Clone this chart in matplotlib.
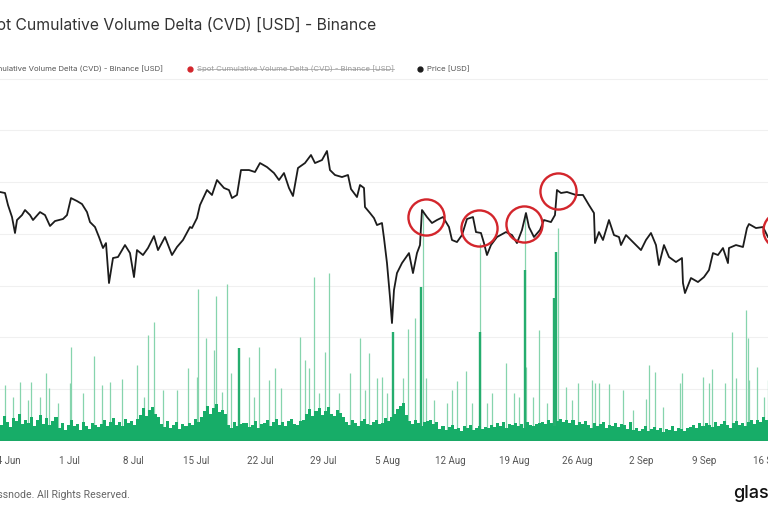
import datetime
import numpy as np
import matplotlib
matplotlib.use('Agg')
import matplotlib.pyplot as plt
import matplotlib.dates as mdates
from matplotlib.lines import Line2D

# time axis: days counted from 24 Jun 2024
start = mdates.date2num(datetime.datetime(2024, 6, 24))
tick_days = [0, 7, 14, 21, 28, 35, 42, 49, 56, 63, 70, 77, 84]
tick_labels = ['24 Jun', '1 Jul', '8 Jul', '15 Jul', '22 Jul', '29 Jul', '5 Aug',
               '12 Aug', '19 Aug', '26 Aug', '2 Sep', '9 Sep', '16 Sep']

# BTC price [USD]
price_days = [-0.674, -0.122, 0.208, 0.649, 0.980, 1.201, 1.752, 2.083, 2.634, 2.965,
              3.737, 4.288, 4.839, 5.390, 6.272, 6.713, 7.154, 7.816, 8.367, 8.918,
              9.248, 9.800, 10.241, 10.682, 11.012, 11.343, 11.784, 12.335, 13.107, 13.658,
              14.099, 14.430, 15.091, 15.642, 16.304, 16.745, 17.517, 18.288, 18.839, 19.501,
              20.273, 20.493, 21.045, 21.375, 22.147, 22.698, 23.249, 24.021, 24.572, 24.903,
              25.454, 25.895, 26.777, 27.439, 27.990, 28.762, 29.533, 30.085, 30.636, 31.187,
              31.628, 32.179, 32.951, 33.613, 34.054, 34.825, 35.376, 35.707, 36.258, 37.030,
              37.692, 38.022, 38.684, 39.015, 39.456, 39.566, 40.117, 40.558, 40.889, 41.440,
              41.661, 41.992, 42.322, 42.543, 42.763, 43.094, 43.645, 44.417, 44.858, 45.299,
              45.630, 45.850, 46.401, 46.953, 47.504, 48.165, 48.827, 49.158, 49.709, 50.260,
              50.811, 51.473, 51.804, 52.355, 52.686, 53.016, 53.457, 54.119, 55.111, 55.772,
              56.324, 56.875, 57.316, 57.647, 58.198, 58.860, 59.301, 60.072, 60.513, 60.734,
              61.175, 61.836, 62.829, 63.600, 64.262, 64.813, 64.924, 65.365, 65.806, 66.467,
              67.018, 67.570, 67.790, 68.341, 69.223, 69.995, 70.546, 71.097, 71.649, 71.979,
              72.531, 73.082, 73.854, 74.515, 74.625, 74.846, 75.507, 76.279, 76.941, 77.492,
              77.933, 78.484, 79.035, 79.586, 79.697, 80.469, 81.240, 81.681, 81.902, 82.674,
              83.445, 83.996]
price_usd = [64580, 64460, 63050, 61650, 59780, 61300, 61880, 62470, 61880, 61300,
             62230, 61880, 60600, 61180, 61420, 61880, 63870, 63520, 63170, 62230,
             61060, 60480, 59310, 58020, 58600, 53920, 56850, 56970, 58370, 57430,
             54620, 57780, 57200, 58020, 59420, 57780, 59310, 57200, 58140, 58960,
             60480, 60360, 61530, 63050, 64810, 64230, 65980, 65050, 64810, 63870,
             64230, 67150, 67150, 66920, 67970, 67500, 66800, 65980, 66800, 65050,
             64110, 67390, 67970, 68910, 67970, 68320, 69380, 67150, 66570, 66330,
             66570, 64930, 63990, 65400, 65050, 62820, 62120, 61530, 60710, 60950,
             59190, 56260, 52280, 49240, 53100, 55090, 56260, 57430, 55090, 57430,
             58370, 62470, 61650, 60950, 61300, 61650, 60480, 58960, 58720, 59540,
             61420, 61650, 59890, 59780, 58600, 57200, 58370, 59310, 59890, 59540,
             58600, 60130, 62120, 60480, 59310, 60130, 61300, 61060, 61880, 64810,
             64460, 64580, 64230, 64230, 63050, 62120, 58600, 59890, 58960, 61300,
             59540, 59310, 58370, 59540, 58600, 57780, 58960, 59780, 58370, 56030,
             58370, 56970, 56380, 56850, 53920, 52750, 54510, 54040, 54620, 55440,
             57430, 57200, 58020, 56260, 58020, 58370, 58140, 60360, 60830, 60360,
             60480, 59310]

# spot CVD base, 8h buckets from 23 Jun (arbitrary units, estimated)
cvd_8h = [4.2, 3.1, 4.8, 3.6, 2.7, 4.5, 3.9, 5.2, 3.3, 4.1,
          3.5, 4.6, 2.9, 4.0, 5.1, 3.2, 4.4, 3.0, 3.8, 4.7,
          2.6, 3.4, 2.2, 3.1, 4.0, 2.8, 3.3, 2.1, 3.6, 2.9, 2.4, 3.5, 3.0, 2.7,
          3.2, 4.1, 2.9, 3.7, 4.4, 3.0, 3.6, 2.8, 4.2, 3.4, 3.9, 3.1, 4.3,
          5.1, 6.3, 4.8, 5.9, 6.6, 5.2, 4.6,
          3.3, 2.7, 3.8, 2.5, 3.1, 3.6, 2.4, 3.2, 2.9, 3.5, 3.0,
          4.2, 3.6, 4.7,
          5.8, 6.7, 5.2, 6.4, 7.1, 5.5, 6.0, 5.3,
          3.1, 2.6, 3.7, 2.9, 3.3, 3.4, 3.5, 2.7, 3.0, 3.8, 2.5, 3.2,
          3.4, 4.0, 2.9, 3.7, 4.3, 3.1, 3.6, 2.8, 3.9, 4.2, 3.3, 3.0, 3.8, 4.1,
          5.2, 6.1, 4.9, 5.7, 6.4, 5.0, 5.8, 6.6, 5.3, 4.8, 5.9, 5.4, 4.7,
          3.6, 3.1, 4.0, 3.4, 2.9, 3.8, 4.2, 3.3, 3.0, 3.7, 4.1, 3.2, 3.5, 4.4, 3.9,
          4.6, 5.3, 6.2, 6.8, 7.4, 5.1,
          3.8, 3.2, 4.1, 3.5, 2.9, 3.7, 3.9, 4.0, 3.3, 3.6,
          2.4, 2.9, 2.2, 2.7, 3.1, 2.3, 2.6, 2.0, 2.8, 2.5, 3.0, 2.1, 2.6, 2.9, 2.4, 2.7, 2.5,
          3.1, 2.7, 3.4, 2.9, 3.6, 2.5, 3.2, 3.0, 3.5, 2.8, 3.3, 2.6, 3.7, 3.0, 2.9, 3.2, 3.4,
          3.6, 3.2, 4.0, 3.4, 2.9, 3.8, 4.3, 3.6, 4.0, 3.5, 4.1, 3.0, 3.7, 3.3, 3.9,
          3.0, 2.6, 3.4, 2.8, 3.2, 3.7, 2.5, 3.1, 2.9, 3.5, 2.7, 3.3, 3.0, 2.4, 3.6,
          2.2, 2.6, 1.9, 2.4, 2.8, 2.0, 2.3, 2.7, 2.1, 2.5, 1.8, 2.4, 2.2, 2.9, 2.0,
          2.6, 2.3, 1.9, 2.5, 2.7,
          3.0, 2.6, 3.4, 2.8, 3.5, 3.1, 2.7, 3.6, 2.9, 3.3, 3.8, 3.0, 2.6, 3.4, 3.9,
          3.1, 3.5, 2.8, 3.7, 4.0, 3.2,
          4.1, 3.7, 4.6, 4.0, 5.2]
cvd_days = -1 + (np.arange(len(cvd_8h)) + 0.5) / 3

# single hourly spikes above the base
spike_days = [-0.155, 0.760, 1.531, 2.413, 2.744, 3.737, 4.398, 4.729, 5.721, 7.044,
              7.154, 8.477, 9.690, 10.572, 11.454, 12.777, 14.430, 15.202, 15.642, 16.304,
              17.296, 18.839, 20.052, 21.045, 21.155, 22.037, 22.919, 23.139, 23.801, 24.352,
              24.793, 26.777, 27.328, 27.880, 28.982, 29.644, 30.305, 32.400, 32.951, 33.392,
              33.943, 34.494, 35.156, 35.597, 36.699, 37.912, 39.015, 39.566, 40.007, 40.889,
              41.440, 41.992, 43.755, 44.306, 45.078, 45.960, 46.291, 47.173, 48.606, 49.158,
              49.709, 50.701, 51.363, 52.245, 53.016, 53.568, 55.111, 55.993, 56.544, 57.206,
              57.316, 58.088, 58.749, 59.631, 60.844, 61.726, 62.388, 63.049, 64.593, 64.924,
              65.365, 66.467, 68.011, 69.113, 70.546, 70.877, 71.538, 72.420, 74.294, 74.515,
              76.830, 77.492, 77.823, 79.256, 80.028, 80.469, 81.571, 81.792, 81.902, 82.784,
              83.556, 83.996]
spike_vals = [10.8, 8.5, 11.4, 7.9, 11.4, 8.5, 13.1, 10.2, 7.3, 11.2,
              18.1, 9.3, 16.4, 10.8, 11.4, 12.0, 14.7, 8.5, 20.5, 23.0,
              9.8, 9.8, 14.1, 12.4, 29.3, 19.9, 17.6, 28.0, 9.5, 30.3,
              13.1, 16.2, 8.5, 18.1, 11.8, 14.1, 10.2, 20.1, 15.6, 14.1,
              31.7, 9.3, 17.2, 32.4, 9.3, 13.1, 19.9, 9.8, 17.0, 12.2,
              12.4, 9.3, 12.2, 21.6, 23.7, 44.6, 12.2, 7.9, 7.3, 9.8,
              11.6, 13.5, 7.3, 38.2, 7.3, 9.3, 15.1, 9.3, 8.5, 44.0,
              14.3, 8.5, 21.4, 7.3, 41.1, 10.4, 7.9, 11.2, 11.8, 11.2,
              11.2, 11.0, 9.8, 6.0, 8.1, 14.7, 13.3, 6.6, 11.2, 13.1,
              12.4, 11.2, 13.9, 11.2, 21.0, 12.2, 25.3, 19.9, 11.8, 14.3,
              8.5, 11.8]

# heavier hourly bars (drawn darker)
dark_days = [25.68, 42.65, 45.74, 52.25, 57.21, 60.36, 60.68]
dark_vals = [18.0, 21.0, 29.7, 21.0, 33.0, 27.6, 36.5]

# red highlight circles (annotation)
circle_days = [46.27, 52.14, 57.10, 60.84, 85.43]
circle_usd = [61650, 60360, 60830, 64690, 60130]

W, H = 768, 512
fig = plt.figure(figsize=(W / 100, H / 100), dpi=100)
ax = fig.add_axes([0, 71 / H, 1, 341 / H])

ax.vlines(start + np.array(spike_days), 0, spike_vals, color='#86d4ad', lw=0.9, zorder=2)
ax.vlines(start + np.array(dark_days), 0, dark_vals, color='#25ad6e', lw=1.7, zorder=2)
ax.bar(start + cvd_days, cvd_8h, width=1 / 3, color='#17ad68', linewidth=0, zorder=2)
ax.axhline(0, color='#1aa866', lw=2.2, zorder=3)

ax.set_xlim(start - 0.674, start + 84.0)
ax.set_ylim(0, 65.8)
ax.set_yticks(range(0, 61, 10))
ax.yaxis.set_tick_params(length=0, labelleft=False)
ax.grid(axis='y', color='#f0f0f0', lw=0.8)
ax.set_axisbelow(True)
for s in ax.spines.values():
    s.set_visible(False)
ax.set_xticks(start + np.array(tick_days))
ax.set_xticklabels(tick_labels, fontsize=7, color='#555555', family='Roboto')
ax.xaxis.set_tick_params(length=0, pad=11)

ax2 = ax.twinx()
ax2.set_ylim(35430, 75350)
ax2.plot(start + np.array(price_days), price_usd, color='#1c1c1c', lw=1.3, zorder=4)
ax2.plot(start + np.array(circle_days), circle_usd, 'o', ms=26, mfc='none',
         mec='#d3262c', mew=1.7, zorder=5, clip_on=False)
ax2.set_axis_off()

# header
fig.text(-23 / W, 1 - 25 / H, 'Spot Cumulative Volume Delta (CVD) [USD] - Binance',
         fontsize=11.3, color='#333333', family='Inter', va='center', ha='left')
ly = 1 - 69 / H
fig.text(163 / W, ly, 'Spot Cumulative Volume Delta (CVD) - Binance [USD]',
         fontsize=5.6, color='#555555', family='Inter', va='center', ha='right')
fig.add_artist(Line2D([190 / W], [ly], marker='o', ms=3.5, color='#d3262c'))
mid = fig.text(197 / W, ly, 'Spot Cumulative Volume Delta (CVD) - Binance [USD]',
               fontsize=5.6, color='#9a9a9a', family='Inter', va='center', ha='left')
fig.add_artist(Line2D([420 / W], [ly], marker='o', ms=3.5, color='#1c1c1c'))
fig.text(427 / W, ly, 'Price [USD]', fontsize=5.6, color='#555555', family='Inter',
         va='center', ha='left')
fig.add_artist(Line2D([0, 1], [1 - 79 / H] * 2, color='#f0f0f0', lw=0.8))

# strike through the hidden series label
fig.canvas.draw()
bb = mid.get_window_extent()
fig.add_artist(Line2D([bb.x0 / W, bb.x1 / W], [ly, ly], color='#9a9a9a', lw=0.5))

# footer
fig.text(130 / W, 1 - 495 / H, '\u00a9 2024 Glassnode. All Rights Reserved.',
         fontsize=7.6, color='#666666', family='Roboto', va='center', ha='right')
fig.text(733 / W, 1 - 494 / H, 'glassnode', fontsize=13, color='#111111',
         family='Inter', weight='medium', va='center', ha='left')

fig.savefig('out.png', dpi=100)
